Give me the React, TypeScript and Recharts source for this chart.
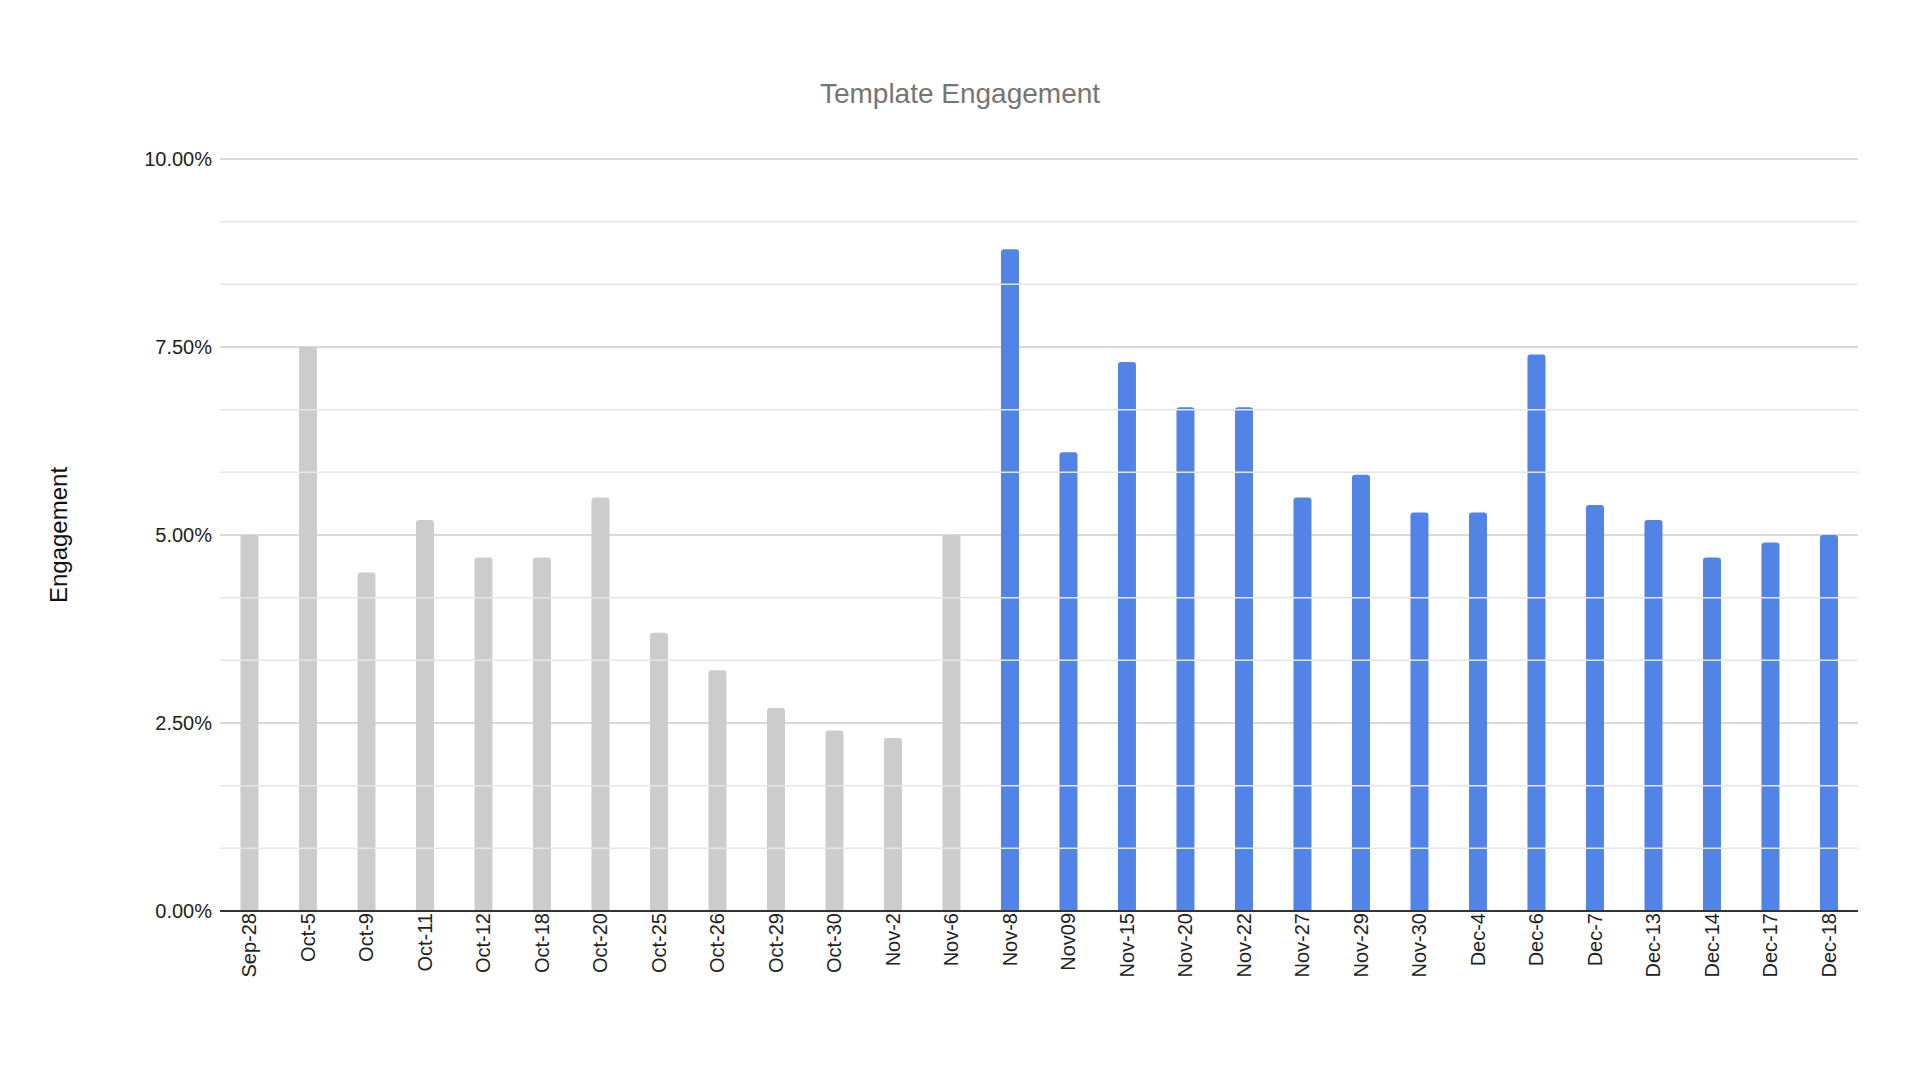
import { BarChart, Bar, XAxis, YAxis, CartesianGrid, Cell, ReferenceLine } from 'recharts';

const dates = ['Sep-28', 'Oct-5', 'Oct-9', 'Oct-11', 'Oct-12', 'Oct-18', 'Oct-20', 'Oct-25', 'Oct-26', 'Oct-29', 'Oct-30', 'Nov-2', 'Nov-6', 'Nov-8', 'Nov09', 'Nov-15', 'Nov-20', 'Nov-22', 'Nov-27', 'Nov-29', 'Nov-30', 'Dec-4', 'Dec-6', 'Dec-7', 'Dec-13', 'Dec-14', 'Dec-17', 'Dec-18'];
const engagement = [5.0, 7.5, 4.5, 5.2, 4.7, 4.7, 5.5, 3.7, 3.2, 2.7, 2.4, 2.3, 5.0, 8.8, 6.1, 7.3, 6.7, 6.7, 5.5, 5.8, 5.3, 5.3, 7.4, 5.4, 5.2, 4.7, 4.9, 5.0];
const highlighted = dates.map((d, i) => i >= 13);
const yTicks = [0, 2.5, 5, 7.5, 10];
const minorTicks = [0.833, 1.667, 3.333, 4.167, 5.833, 6.667, 8.333, 9.167];

const data = dates.map((date, i) => ({ date, value: engagement[i] }));

export default function App() {
  return (
    <div style={{ position: 'fixed', left: 0, top: 0, width: 1920, height: 1080, background: '#fff', fontFamily: '"Liberation Sans", Arial, sans-serif' }}>
      <div style={{ position: 'absolute', top: 78, width: 1920, textAlign: 'center', fontSize: 28, color: '#757575' }}>Template Engagement</div>
      <BarChart width={1920} height={1080} data={data} margin={{ top: 159, right: 62, bottom: 55, left: 0 }} barCategoryGap="35%">
        <CartesianGrid vertical={false} stroke="#cccccc" strokeWidth={1.5} />
        {minorTicks.map((v) => (
          <ReferenceLine key={v} y={v} stroke="#e6e6e6" strokeWidth={1.5} />
        ))}
        <XAxis
          dataKey="date"
          interval={0}
          angle={-90}
          textAnchor="end"
          height={114}
          tickLine={false}
          axisLine={{ stroke: '#333', strokeWidth: 2 }}
          tick={{ fill: '#222', fontSize: 20, dy: -6, dx: -7 }}
        />
        <YAxis
          width={220}
          domain={[0, 10]}
          ticks={yTicks}
          tickFormatter={(v: number) => v.toFixed(2) + '%'}
          axisLine={false}
          tickLine={false}
          tick={{ fill: '#222', fontSize: 20 }}
          label={{ value: 'Engagement', angle: -90, position: 'insideLeft', offset: 58, style: { fontSize: 24, fill: '#111', textAnchor: 'middle' } }}
        />
        <Bar dataKey="value" isAnimationActive={false} radius={[3, 3, 0, 0]}>
          {data.map((d, i) => (
            <Cell key={d.date} fill={highlighted[i] ? '#5284e8' : '#cccccc'} />
          ))}
        </Bar>
      </BarChart>
    </div>
  );
}
